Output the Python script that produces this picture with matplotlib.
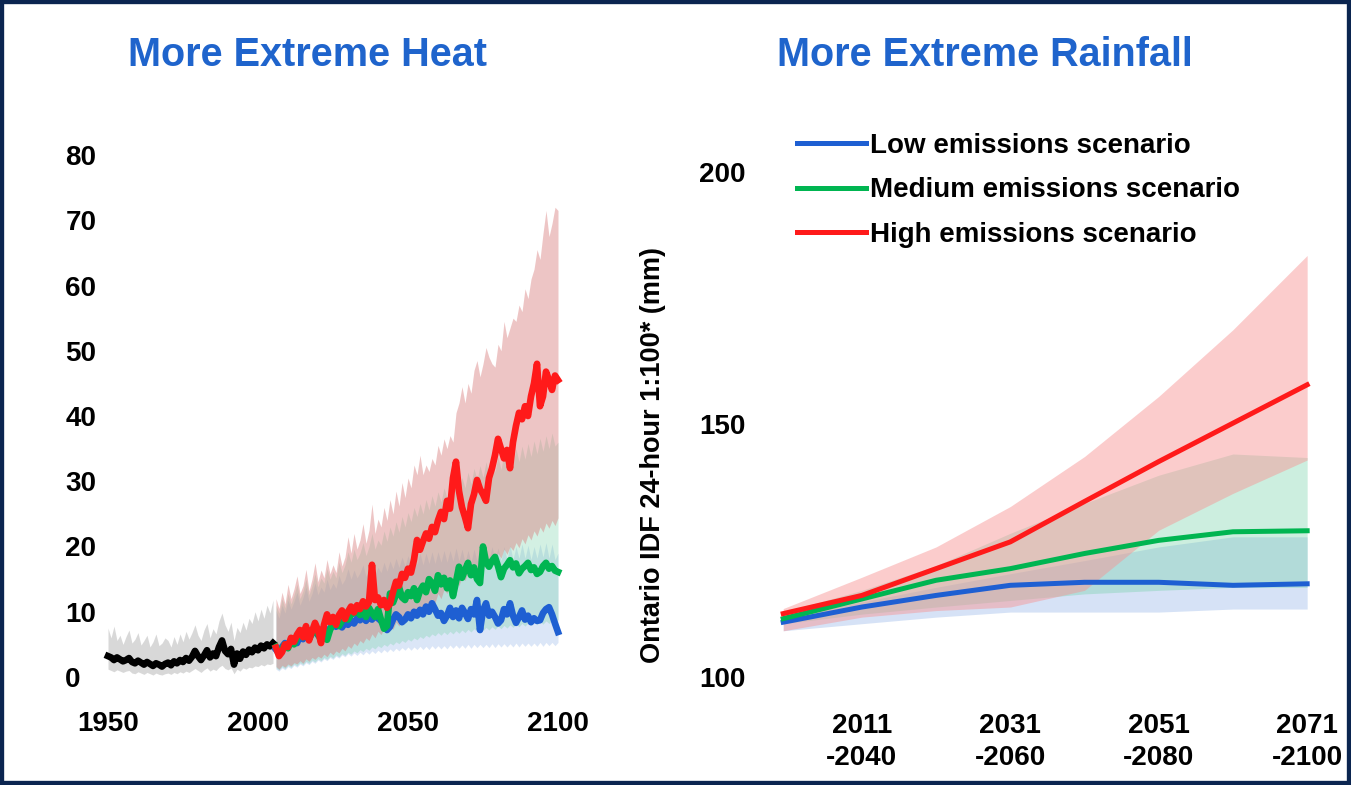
import matplotlib
matplotlib.use("Agg")
import matplotlib.pyplot as plt
from matplotlib.patches import Rectangle

plt.rcParams['font.family'] = ['Liberation Sans', 'DejaVu Sans']
plt.rcParams['font.weight'] = 'bold'

# ---------------- Extreme heat (days per year) ----------------
hist_years = list(range(1950, 2006))
hist_mean = [3.2, 3.0, 2.6, 3.0, 2.7, 2.4, 2.6, 2.9, 2.3, 2.1,
             2.5, 2.2, 1.9, 2.3, 2.0, 1.7, 2.1, 1.9, 1.6, 2.0,
             2.2, 1.8, 2.4, 2.1, 2.6, 2.3, 2.9, 2.5, 3.1, 4.0,
             3.2, 2.6, 3.3, 4.1, 3.0, 3.6, 3.2, 4.6, 5.6, 4.0,
             3.5, 4.3, 1.9, 3.6, 2.8, 3.9, 3.4, 4.2, 3.8, 4.5,
             4.1, 4.8, 4.4, 5.0, 4.7, 5.2]
hist_hi = [7.5, 6.0, 7.8, 5.6, 6.4, 5.0, 6.2, 7.2, 5.2, 5.8,
           6.8, 4.9, 5.6, 6.4, 4.6, 5.4, 6.6, 4.8, 5.2, 6.0,
           5.6, 4.6, 6.2, 5.0, 6.6, 5.4, 7.0, 5.8, 6.8, 8.0,
           6.4, 5.6, 7.2, 8.2, 6.0, 7.4, 6.6, 8.6, 9.8, 8.0,
           7.0, 8.4, 5.6, 7.6, 6.8, 8.4, 7.2, 9.0, 8.2, 10.0,
           8.6, 10.4, 9.0, 11.0, 9.8, 11.8]
hist_lo = [1.2, 1.0, 0.8, 1.1, 0.9, 0.7, 0.9, 1.0, 0.6, 0.5,
           0.8, 0.6, 0.4, 0.7, 0.5, 0.3, 0.6, 0.4, 0.3, 0.5,
           0.6, 0.4, 0.7, 0.5, 0.8, 0.6, 0.9, 0.7, 1.0, 1.3,
           1.0, 0.7, 1.1, 1.4, 0.9, 1.2, 1.0, 1.5, 1.8, 1.3,
           1.1, 1.4, 0.5, 1.2, 0.9, 1.4, 1.2, 1.5, 1.4, 1.7,
           1.6, 1.9, 1.7, 2.0, 1.9, 2.1]

proj_years = list(range(2006, 2101))
high_mean = [4.5, 3.2, 3.8, 5.0, 4.6, 6.0, 5.4, 6.5, 7.2, 6.1,
             7.8, 5.6, 7.0, 8.3, 7.2, 5.2, 8.0, 9.6, 8.4, 9.2,
             8.0, 9.5, 10.2, 8.9, 10.0, 10.8, 9.9, 11.0, 10.4, 11.6,
             10.8, 11.5, 17.2, 11.8, 12.2, 11.0, 11.8, 10.6, 11.2, 13.0,
             14.6, 14.0, 15.8, 15.2, 16.6, 16.0, 18.0, 21.0, 19.5, 20.8,
             22.0, 21.2, 23.0, 22.2, 24.0, 25.3, 24.2, 27.0, 25.8, 30.5,
             33.0, 28.5, 26.0, 24.5, 22.8, 26.5, 28.0, 30.2, 28.8, 28.0,
             27.0, 30.5, 32.0, 34.0, 36.5, 35.0, 33.5, 34.8, 32.0, 36.0,
             38.5, 40.5, 39.5, 41.5, 40.0, 43.0, 45.0, 48.0, 41.5, 43.0,
             46.8, 45.5, 44.0, 46.2, 45.5]
high_hi = [12.0, 10.5, 13.0, 11.2, 14.2, 12.0, 13.5, 15.5, 12.8, 14.0,
           16.5, 13.2, 15.0, 17.5, 14.6, 16.4, 15.2, 18.0, 15.8, 17.2,
           16.0, 19.2, 17.0, 18.4, 21.5, 19.0, 22.0, 19.6, 21.0, 23.5,
           20.5, 22.5, 26.5, 22.0, 24.2, 23.0, 26.0, 24.0, 27.2, 25.0,
           28.5, 26.2, 29.8, 27.5, 30.5, 29.0, 32.5, 31.0, 34.0, 31.0,
           32.5, 31.5, 33.5, 32.5, 35.5, 34.0, 36.5, 35.0, 37.0, 36.0,
           40.5, 42.0, 44.5, 42.0, 45.0, 43.5, 47.0, 48.5, 46.0, 48.0,
           50.5, 49.0, 48.0, 47.5, 51.0, 50.0, 54.5, 52.0, 53.5, 55.0,
           54.5, 57.0, 56.0, 59.5, 58.0, 61.0, 62.5, 65.5, 64.0, 68.0,
           71.5, 67.5, 69.5, 72.0, 71.5]
high_lo = [1.6, 1.2, 1.8, 1.5, 2.0, 1.7, 2.2, 2.0, 2.5, 2.1,
           2.8, 2.4, 3.0, 2.7, 3.2, 2.9, 3.5, 3.1, 3.8, 3.4,
           4.0, 3.7, 4.4, 4.0, 4.8, 4.4, 5.2, 4.8, 5.6, 5.2,
           6.0, 5.6, 6.6, 6.0, 7.0, 6.5, 7.4, 6.8, 7.8, 7.3,
           8.4, 7.8, 9.0, 8.4, 9.6, 9.0, 10.2, 9.6, 10.8, 10.2,
           11.5, 10.8, 12.0, 11.4, 12.8, 12.0, 13.4, 12.8, 14.0, 13.4,
           14.8, 14.0, 15.4, 14.8, 16.0, 15.2, 16.6, 16.0, 17.2, 16.5,
           17.8, 17.0, 18.4, 17.6, 19.0, 18.2, 19.6, 18.8, 20.0, 19.4,
           20.6, 19.8, 21.2, 20.4, 21.8, 21.0, 22.4, 21.6, 23.0, 22.2,
           23.6, 22.8, 24.0, 23.2, 24.4]

med_mean = [4.6, 3.8, 4.2, 5.0, 4.4, 5.6, 5.0, 6.0, 6.6, 6.1,
            6.9, 5.8, 6.7, 7.4, 6.6, 5.6, 6.8, 5.7, 7.2, 8.2,
            8.7, 7.8, 8.6, 9.4, 8.8, 9.6, 9.8, 10.2, 9.5, 10.4,
            9.2, 10.6, 9.8, 9.2, 10.4, 8.8, 7.4, 7.8, 12.8, 11.4,
            12.6, 13.8, 12.2, 11.8, 13.0, 12.4, 13.6, 11.8, 13.2, 14.0,
            13.0, 15.0, 14.4, 13.2, 15.6, 14.2, 15.2, 13.6, 14.8, 12.4,
            14.6, 16.9, 15.2, 16.4, 17.5, 15.6, 16.8, 15.0, 14.4, 20.0,
            17.6, 16.9, 17.8, 18.4, 17.0, 15.3, 16.6, 17.2, 17.9, 16.8,
            17.4, 15.9, 16.6, 17.0, 17.5, 16.4, 16.8, 15.8, 16.1, 17.0,
            17.5, 16.6, 17.0, 16.3, 16.1]
med_hi = [11.0, 9.8, 12.0, 10.6, 12.8, 11.2, 12.6, 14.2, 12.0, 13.2,
          15.0, 12.6, 14.0, 15.8, 13.8, 15.2, 14.4, 16.6, 15.0, 16.2,
          15.2, 17.6, 16.0, 17.2, 19.2, 17.6, 19.6, 18.0, 19.0, 20.6,
          18.6, 20.0, 22.0, 19.6, 21.0, 20.2, 22.4, 20.8, 23.0, 21.6,
          23.8, 22.2, 24.6, 23.0, 25.2, 23.8, 26.0, 24.6, 26.6, 25.0,
          27.2, 25.6, 27.8, 26.2, 28.4, 26.8, 29.0, 27.4, 29.6, 28.0,
          31.0, 28.6, 30.6, 29.0, 31.4, 29.6, 32.0, 30.2, 32.4, 30.6,
          33.0, 31.0, 33.4, 31.4, 33.8, 31.8, 34.4, 32.2, 34.6, 32.6,
          35.0, 33.0, 35.4, 33.4, 35.8, 33.8, 36.2, 34.2, 36.6, 34.6,
          37.0, 35.0, 37.4, 35.4, 36.0]
med_lo = [1.4, 1.1, 1.6, 1.3, 1.8, 1.5, 2.0, 1.7, 2.2, 1.9,
          2.4, 2.1, 2.6, 2.3, 2.8, 2.5, 3.0, 2.7, 3.2, 2.9,
          3.4, 3.1, 3.6, 3.3, 3.8, 3.5, 4.0, 3.7, 4.2, 3.9,
          4.4, 4.1, 4.6, 4.3, 4.8, 4.5, 5.0, 4.7, 5.2, 4.9,
          5.4, 5.1, 5.6, 5.3, 5.8, 5.5, 6.0, 5.7, 6.2, 5.9,
          6.4, 6.1, 6.6, 6.3, 6.8, 6.4, 6.9, 6.5, 7.0, 6.6,
          7.1, 6.7, 7.2, 6.8, 7.3, 6.9, 7.4, 7.0, 7.5, 7.1,
          7.6, 7.2, 7.7, 7.3, 7.8, 7.4, 7.9, 7.5, 8.0, 7.6,
          8.1, 7.7, 8.2, 7.8, 8.3, 7.9, 8.4, 8.0, 8.5, 8.1,
          8.6, 8.2, 8.7, 8.3, 8.8]

low_mean = [4.2, 3.6, 4.6, 5.2, 4.8, 5.4, 5.9, 5.2, 6.3, 5.8,
            6.6, 6.0, 6.8, 7.2, 6.4, 7.0, 7.6, 6.8, 7.4, 8.0,
            7.7, 8.2, 7.6, 8.4, 8.0, 8.6, 8.2, 9.0, 8.7, 9.2,
            8.6, 9.4, 8.8, 9.6, 9.0, 8.6, 8.1, 7.2, 7.7, 8.8,
            9.6, 9.2, 8.4, 8.8, 9.6, 9.0, 10.0, 9.4, 10.3, 9.6,
            10.8, 10.0, 11.3, 10.4, 9.4, 9.8, 8.6, 9.4, 10.6, 9.2,
            10.2, 9.0, 10.6, 9.8, 8.9, 10.4, 9.6, 11.8, 7.2, 10.2,
            11.3, 9.4, 10.0, 9.2, 8.2, 8.7, 10.4, 9.6, 11.3, 9.4,
            8.3, 9.2, 10.2, 8.8, 9.4, 8.4, 9.0, 8.6, 8.7, 9.8,
            10.4, 10.7, 9.6, 8.2, 6.9]
low_hi = [10.2, 9.0, 11.0, 9.8, 11.8, 10.4, 11.6, 13.0, 11.0, 12.2,
          13.8, 11.6, 12.8, 14.4, 12.6, 13.8, 13.0, 15.0, 13.4, 14.4,
          13.6, 15.6, 14.2, 15.0, 16.6, 15.0, 16.4, 15.2, 16.0, 17.2,
          15.4, 16.4, 18.0, 15.8, 16.8, 16.0, 17.6, 16.2, 17.8, 16.6,
          18.2, 16.8, 18.4, 17.0, 18.6, 17.0, 18.8, 17.2, 19.0, 17.2,
          19.0, 17.4, 19.2, 17.4, 19.2, 17.6, 19.4, 17.6, 19.4, 17.8,
          19.8, 17.8, 19.6, 17.6, 19.4, 17.6, 19.6, 17.8, 19.8, 17.8,
          20.0, 18.0, 20.0, 18.0, 19.8, 17.8, 20.0, 18.0, 20.2, 18.0,
          20.0, 18.2, 20.4, 18.2, 20.2, 18.0, 20.0, 18.2, 20.4, 18.4,
          20.6, 18.2, 20.4, 18.0, 19.0]
low_lo = [1.2, 0.9, 1.4, 1.1, 1.6, 1.3, 1.8, 1.5, 2.0, 1.7,
          2.2, 1.9, 2.4, 2.1, 2.6, 2.3, 2.8, 2.5, 3.0, 2.7,
          3.2, 2.9, 3.4, 3.1, 3.6, 3.2, 3.7, 3.3, 3.8, 3.4,
          3.9, 3.5, 4.0, 3.6, 4.1, 3.7, 4.2, 3.8, 4.3, 3.9,
          4.4, 4.0, 4.5, 4.1, 4.6, 4.1, 4.6, 4.2, 4.7, 4.2,
          4.7, 4.2, 4.8, 4.3, 4.8, 4.3, 4.8, 4.3, 4.9, 4.4,
          4.9, 4.4, 4.9, 4.4, 5.0, 4.4, 5.0, 4.5, 5.0, 4.5,
          5.0, 4.5, 5.1, 4.5, 5.1, 4.6, 5.1, 4.6, 5.1, 4.6,
          5.2, 4.6, 5.2, 4.7, 5.2, 4.7, 5.2, 4.7, 5.3, 4.7,
          5.3, 4.8, 5.3, 4.8, 5.3]

heat_xticks = [1950, 2000, 2050, 2100]
heat_yticks = [0, 10, 20, 30, 40, 50, 60, 70, 80]

# ---------------- Extreme rainfall (mm) ----------------
period_pos = [0.47, 1.0, 1.5, 2.0, 2.5, 3.0, 3.5, 4.0]
rain_high = [112.5, 116.1, 121.4, 126.7, 134.7, 142.6, 150.2, 157.8]
rain_high_hi = [113.5, 119.7, 125.7, 133.7, 143.6, 155.5, 168.7, 183.4]
rain_high_lo = [109.1, 111.8, 113.1, 113.8, 117.1, 129.0, 136.3, 142.9]
rain_med = [111.5, 115.4, 119.1, 121.4, 124.4, 127.0, 128.7, 128.9]
rain_med_hi = [112.8, 117.1, 122.0, 128.4, 134.3, 139.9, 144.1, 143.4]
rain_med_lo = [110.5, 112.4, 113.8, 115.1, 116.4, 117.1, 117.7, 117.7]
rain_low = [110.8, 113.8, 116.1, 118.1, 118.7, 118.7, 118.1, 118.4]
rain_low_hi = [111.8, 114.8, 117.7, 120.4, 123.0, 125.7, 127.7, 127.7]
rain_low_lo = [109.1, 110.5, 111.8, 112.8, 112.8, 112.8, 113.4, 113.4]

rain_xticks = [1, 2, 3, 4]
rain_xlabels = ["2011\n-2040", "2031\n-2060", "2051\n-2080", "2071\n-2100"]
rain_yticks = [100, 150, 200]
legend_labels = ["Low emissions scenario", "Medium emissions scenario",
                 "High emissions scenario"]

RED = '#ff1a1a'
GREEN = '#00b551'
BLUE = '#1e5fd2'
TITLE_BLUE = '#1f64cc'
FS = 20

W, H = 1351, 785
fig = plt.figure(figsize=(W / 100, H / 100), dpi=100)
fig.patch.set_facecolor('white')


def px_axes(x0, x1, y0, y1):
    """Axes from a pixel box (left, right, top, bottom)."""
    return fig.add_axes([x0 / W, 1 - y1 / H, (x1 - x0) / W, (y1 - y0) / H])


# ----- left panel -----
ax1 = px_axes(100, 570, 142, 690)
ax1.set_xlim(1950 - 8 / 3, 1950 + 462 / 3)
ax1.set_ylim(-13 / 6.525, 80 + 13 / 6.525)

ax1.fill_between(hist_years, hist_lo, hist_hi, color='#d2d2d2', lw=0, alpha=0.85)
ax1.fill_between(proj_years, low_lo, low_hi, color='#8aaee6', lw=0, alpha=0.30)
ax1.fill_between(proj_years, med_lo, med_hi, color='#6fd0a4', lw=0, alpha=0.30)
ax1.fill_between(proj_years, high_lo, high_hi, color='#d98080', lw=0, alpha=0.45)

ax1.plot(hist_years, hist_mean, color='black', lw=4.8, solid_joinstyle='round')
ax1.plot(proj_years, low_mean, color=BLUE, lw=4.8, solid_joinstyle='round')
ax1.plot(proj_years, med_mean, color=GREEN, lw=4.8, solid_joinstyle='round')
ax1.plot(proj_years, high_mean, color=RED, lw=4.8, solid_joinstyle='round')

ax1.set_xticks(heat_xticks)
ax1.set_yticks(heat_yticks)
ax1.tick_params(length=0, labelsize=FS)
ax1.tick_params(axis='x', pad=15)
ax1.tick_params(axis='y', pad=25)
for lbl in ax1.get_yticklabels():
    lbl.set_horizontalalignment('left')
for s in ax1.spines.values():
    s.set_visible(False)
ax1.patch.set_alpha(0)

fig.text(308 / W, 1 - 55 / H, "More Extreme Heat", color=TITLE_BLUE,
         fontsize=28.5, fontweight='bold', ha='center', va='center')

# ----- right panel -----
ax2 = px_axes(758, 1322, 111, 702)
ax2.set_xlim(0.3, 4.1)
ax2.set_ylim(95, 212)

ax2.fill_between(period_pos, rain_low_lo, rain_low_hi, color='#8aaee6', lw=0, alpha=0.35)
ax2.fill_between(period_pos, rain_med_lo, rain_med_hi, color='#6fd0a4', lw=0, alpha=0.35)
ax2.fill_between(period_pos, rain_high_lo, rain_high_hi, color='#f79494', lw=0, alpha=0.47)

h_low, = ax2.plot(period_pos, rain_low, color=BLUE, lw=3.6)
h_med, = ax2.plot(period_pos, rain_med, color=GREEN, lw=3.6)
h_high, = ax2.plot(period_pos, rain_high, color=RED, lw=3.6)

ax2.set_xticks(rain_xticks)
ax2.set_xticklabels(rain_xlabels, linespacing=1.3)
ax2.set_yticks(rain_yticks)
ax2.tick_params(length=0, labelsize=FS)
ax2.tick_params(axis='x', pad=8)
ax2.tick_params(axis='y', pad=9)
ax2.set_ylabel("Ontario IDF 24-hour 1:100* (mm)", fontsize=19.5, fontweight='bold')
ax2.yaxis.set_label_coords((666 - 758) / (1322 - 758), (702 - 455) / (702 - 111))
for s in ax2.spines.values():
    s.set_visible(False)
ax2.patch.set_alpha(0)

ax2.legend([h_low, h_med, h_high], legend_labels, loc='upper left',
           bbox_to_anchor=((797 - 758) / (1322 - 758), 1 - (133 - 111) / (702 - 111)),
           frameon=False, fontsize=FS, handlelength=2.48, handletextpad=0.15,
           labelspacing=0.66, borderaxespad=0, borderpad=0)

fig.text(985 / W, 1 - 55 / H, "More Extreme Rainfall", color=TITLE_BLUE,
         fontsize=28.5, fontweight='bold', ha='center', va='center')

# frame around the figure
fig.patches.append(Rectangle((0, 0), 1, 1, transform=fig.transFigure,
                             fill=False, edgecolor='#0b2550', lw=6, zorder=10))

fig.savefig('out.png', dpi=100)
